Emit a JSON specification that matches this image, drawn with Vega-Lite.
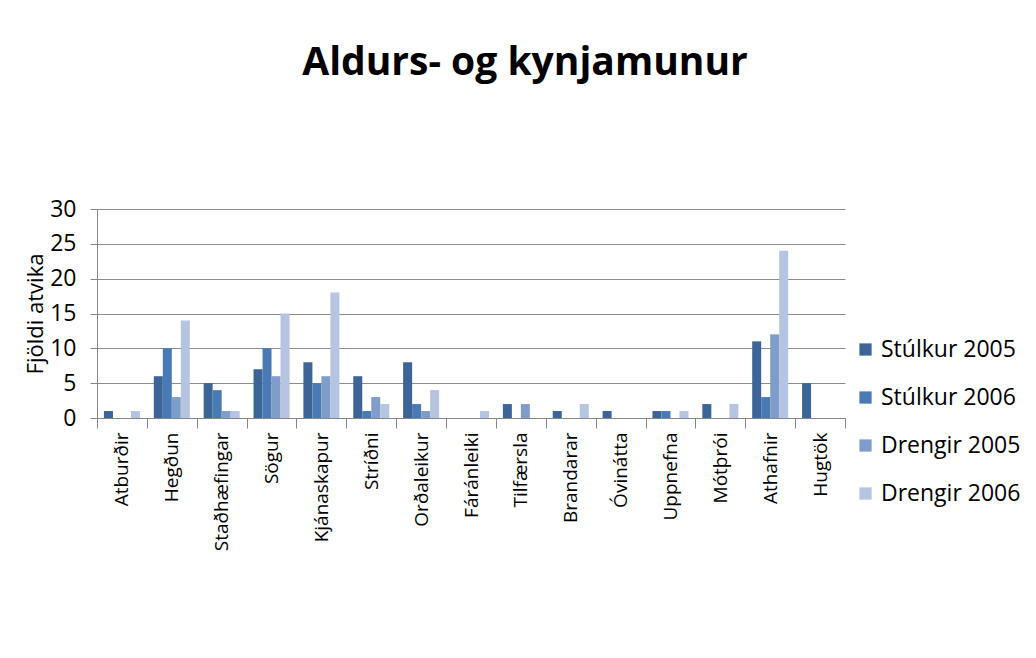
{
  "$schema": "https://vega.github.io/schema/vega-lite/v6.json",
  "autosize": "none",
  "width": 748,
  "height": 209,
  "padding": {"left": 97, "top": 209, "right": 191, "bottom": 240},
  "background": "white",
  "title": {
    "text": "Aldurs- og kynjamunur",
    "font": "Open Sans",
    "fontSize": 39,
    "fontWeight": "bold",
    "color": "#000000",
    "anchor": "middle",
    "dx": 54,
    "offset": 115
  },
  "data": {
    "values": [
      {"flokkur": "Atburðir", "hopur": "Stúlkur 2005", "fjoldi": 1},
      {"flokkur": "Atburðir", "hopur": "Stúlkur 2006", "fjoldi": 0},
      {"flokkur": "Atburðir", "hopur": "Drengir 2005", "fjoldi": 0},
      {"flokkur": "Atburðir", "hopur": "Drengir 2006", "fjoldi": 1},
      {"flokkur": "Hegðun", "hopur": "Stúlkur 2005", "fjoldi": 6},
      {"flokkur": "Hegðun", "hopur": "Stúlkur 2006", "fjoldi": 10},
      {"flokkur": "Hegðun", "hopur": "Drengir 2005", "fjoldi": 3},
      {"flokkur": "Hegðun", "hopur": "Drengir 2006", "fjoldi": 14},
      {"flokkur": "Staðhæfingar", "hopur": "Stúlkur 2005", "fjoldi": 5},
      {"flokkur": "Staðhæfingar", "hopur": "Stúlkur 2006", "fjoldi": 4},
      {"flokkur": "Staðhæfingar", "hopur": "Drengir 2005", "fjoldi": 1},
      {"flokkur": "Staðhæfingar", "hopur": "Drengir 2006", "fjoldi": 1},
      {"flokkur": "Sögur", "hopur": "Stúlkur 2005", "fjoldi": 7},
      {"flokkur": "Sögur", "hopur": "Stúlkur 2006", "fjoldi": 10},
      {"flokkur": "Sögur", "hopur": "Drengir 2005", "fjoldi": 6},
      {"flokkur": "Sögur", "hopur": "Drengir 2006", "fjoldi": 15},
      {"flokkur": "Kjánaskapur", "hopur": "Stúlkur 2005", "fjoldi": 8},
      {"flokkur": "Kjánaskapur", "hopur": "Stúlkur 2006", "fjoldi": 5},
      {"flokkur": "Kjánaskapur", "hopur": "Drengir 2005", "fjoldi": 6},
      {"flokkur": "Kjánaskapur", "hopur": "Drengir 2006", "fjoldi": 18},
      {"flokkur": "Stríðni", "hopur": "Stúlkur 2005", "fjoldi": 6},
      {"flokkur": "Stríðni", "hopur": "Stúlkur 2006", "fjoldi": 1},
      {"flokkur": "Stríðni", "hopur": "Drengir 2005", "fjoldi": 3},
      {"flokkur": "Stríðni", "hopur": "Drengir 2006", "fjoldi": 2},
      {"flokkur": "Orðaleikur", "hopur": "Stúlkur 2005", "fjoldi": 8},
      {"flokkur": "Orðaleikur", "hopur": "Stúlkur 2006", "fjoldi": 2},
      {"flokkur": "Orðaleikur", "hopur": "Drengir 2005", "fjoldi": 1},
      {"flokkur": "Orðaleikur", "hopur": "Drengir 2006", "fjoldi": 4},
      {"flokkur": "Fáránleiki", "hopur": "Stúlkur 2005", "fjoldi": 0},
      {"flokkur": "Fáránleiki", "hopur": "Stúlkur 2006", "fjoldi": 0},
      {"flokkur": "Fáránleiki", "hopur": "Drengir 2005", "fjoldi": 0},
      {"flokkur": "Fáránleiki", "hopur": "Drengir 2006", "fjoldi": 1},
      {"flokkur": "Tilfærsla", "hopur": "Stúlkur 2005", "fjoldi": 2},
      {"flokkur": "Tilfærsla", "hopur": "Stúlkur 2006", "fjoldi": 0},
      {"flokkur": "Tilfærsla", "hopur": "Drengir 2005", "fjoldi": 2},
      {"flokkur": "Tilfærsla", "hopur": "Drengir 2006", "fjoldi": 0},
      {"flokkur": "Brandarar", "hopur": "Stúlkur 2005", "fjoldi": 1},
      {"flokkur": "Brandarar", "hopur": "Stúlkur 2006", "fjoldi": 0},
      {"flokkur": "Brandarar", "hopur": "Drengir 2005", "fjoldi": 0},
      {"flokkur": "Brandarar", "hopur": "Drengir 2006", "fjoldi": 2},
      {"flokkur": "Óvinátta", "hopur": "Stúlkur 2005", "fjoldi": 1},
      {"flokkur": "Óvinátta", "hopur": "Stúlkur 2006", "fjoldi": 0},
      {"flokkur": "Óvinátta", "hopur": "Drengir 2005", "fjoldi": 0},
      {"flokkur": "Óvinátta", "hopur": "Drengir 2006", "fjoldi": 0},
      {"flokkur": "Uppnefna", "hopur": "Stúlkur 2005", "fjoldi": 1},
      {"flokkur": "Uppnefna", "hopur": "Stúlkur 2006", "fjoldi": 1},
      {"flokkur": "Uppnefna", "hopur": "Drengir 2005", "fjoldi": 0},
      {"flokkur": "Uppnefna", "hopur": "Drengir 2006", "fjoldi": 1},
      {"flokkur": "Mótþrói", "hopur": "Stúlkur 2005", "fjoldi": 2},
      {"flokkur": "Mótþrói", "hopur": "Stúlkur 2006", "fjoldi": 0},
      {"flokkur": "Mótþrói", "hopur": "Drengir 2005", "fjoldi": 0},
      {"flokkur": "Mótþrói", "hopur": "Drengir 2006", "fjoldi": 2},
      {"flokkur": "Athafnir", "hopur": "Stúlkur 2005", "fjoldi": 11},
      {"flokkur": "Athafnir", "hopur": "Stúlkur 2006", "fjoldi": 3},
      {"flokkur": "Athafnir", "hopur": "Drengir 2005", "fjoldi": 12},
      {"flokkur": "Athafnir", "hopur": "Drengir 2006", "fjoldi": 24},
      {"flokkur": "Hugtök", "hopur": "Stúlkur 2005", "fjoldi": 5},
      {"flokkur": "Hugtök", "hopur": "Stúlkur 2006", "fjoldi": 0},
      {"flokkur": "Hugtök", "hopur": "Drengir 2005", "fjoldi": 0},
      {"flokkur": "Hugtök", "hopur": "Drengir 2006", "fjoldi": 0}
    ]
  },
  "mark": {"type": "bar"},
  "encoding": {
    "x": {
      "field": "flokkur",
      "type": "nominal",
      "sort": null,
      "scale": {"paddingInner": 0, "paddingOuter": 0},
      "axis": {
        "title": null,
        "labelAngle": -90,
        "labelAlign": "right",
        "labelBaseline": "middle",
        "labelFont": "Open Sans",
        "labelFontSize": 19,
        "labelColor": "#000000",
        "labelPadding": 4,
        "tickBand": "extent",
        "tickSize": 10,
        "tickColor": "#868686",
        "domainColor": "#868686",
        "grid": false
      }
    },
    "xOffset": {
      "field": "hopur",
      "type": "nominal",
      "sort": ["Stúlkur 2005", "Stúlkur 2006", "Drengir 2005", "Drengir 2006"],
      "scale": {"paddingInner": 0, "paddingOuter": 0.77}
    },
    "y": {
      "field": "fjoldi",
      "type": "quantitative",
      "scale": {"domain": [0, 30], "nice": false},
      "axis": {
        "title": "Fjöldi atvika",
        "titleFont": "Open Sans",
        "titleFontSize": 22,
        "titleFontWeight": "normal",
        "titleColor": "#000000",
        "titlePadding": 2,
        "values": [0, 5, 10, 15, 20, 25, 30],
        "labelFont": "Open Sans",
        "labelFontSize": 23,
        "labelColor": "#000000",
        "labelPadding": 14,
        "tickSize": 7,
        "tickColor": "#868686",
        "domainColor": "#868686",
        "grid": true,
        "gridColor": "#8c8c8c",
        "gridWidth": 1
      }
    },
    "color": {
      "field": "hopur",
      "type": "nominal",
      "sort": ["Stúlkur 2005", "Stúlkur 2006", "Drengir 2005", "Drengir 2006"],
      "scale": {
        "domain": ["Stúlkur 2005", "Stúlkur 2006", "Drengir 2005", "Drengir 2006"],
        "range": ["#3c6496", "#4a7ab4", "#7f9dca", "#b5c4e0"]
      },
      "legend": {
        "title": null,
        "orient": "none",
        "legendX": 757,
        "legendY": 129,
        "symbolType": "square",
        "symbolSize": 150,
        "symbolStrokeWidth": 0,
        "labelFont": "Open Sans",
        "labelFontSize": 23,
        "labelColor": "#000000",
        "rowPadding": 24,
        "labelOffset": 4
      }
    }
  },
  "config": {
    "view": {"stroke": null}
  }
}
